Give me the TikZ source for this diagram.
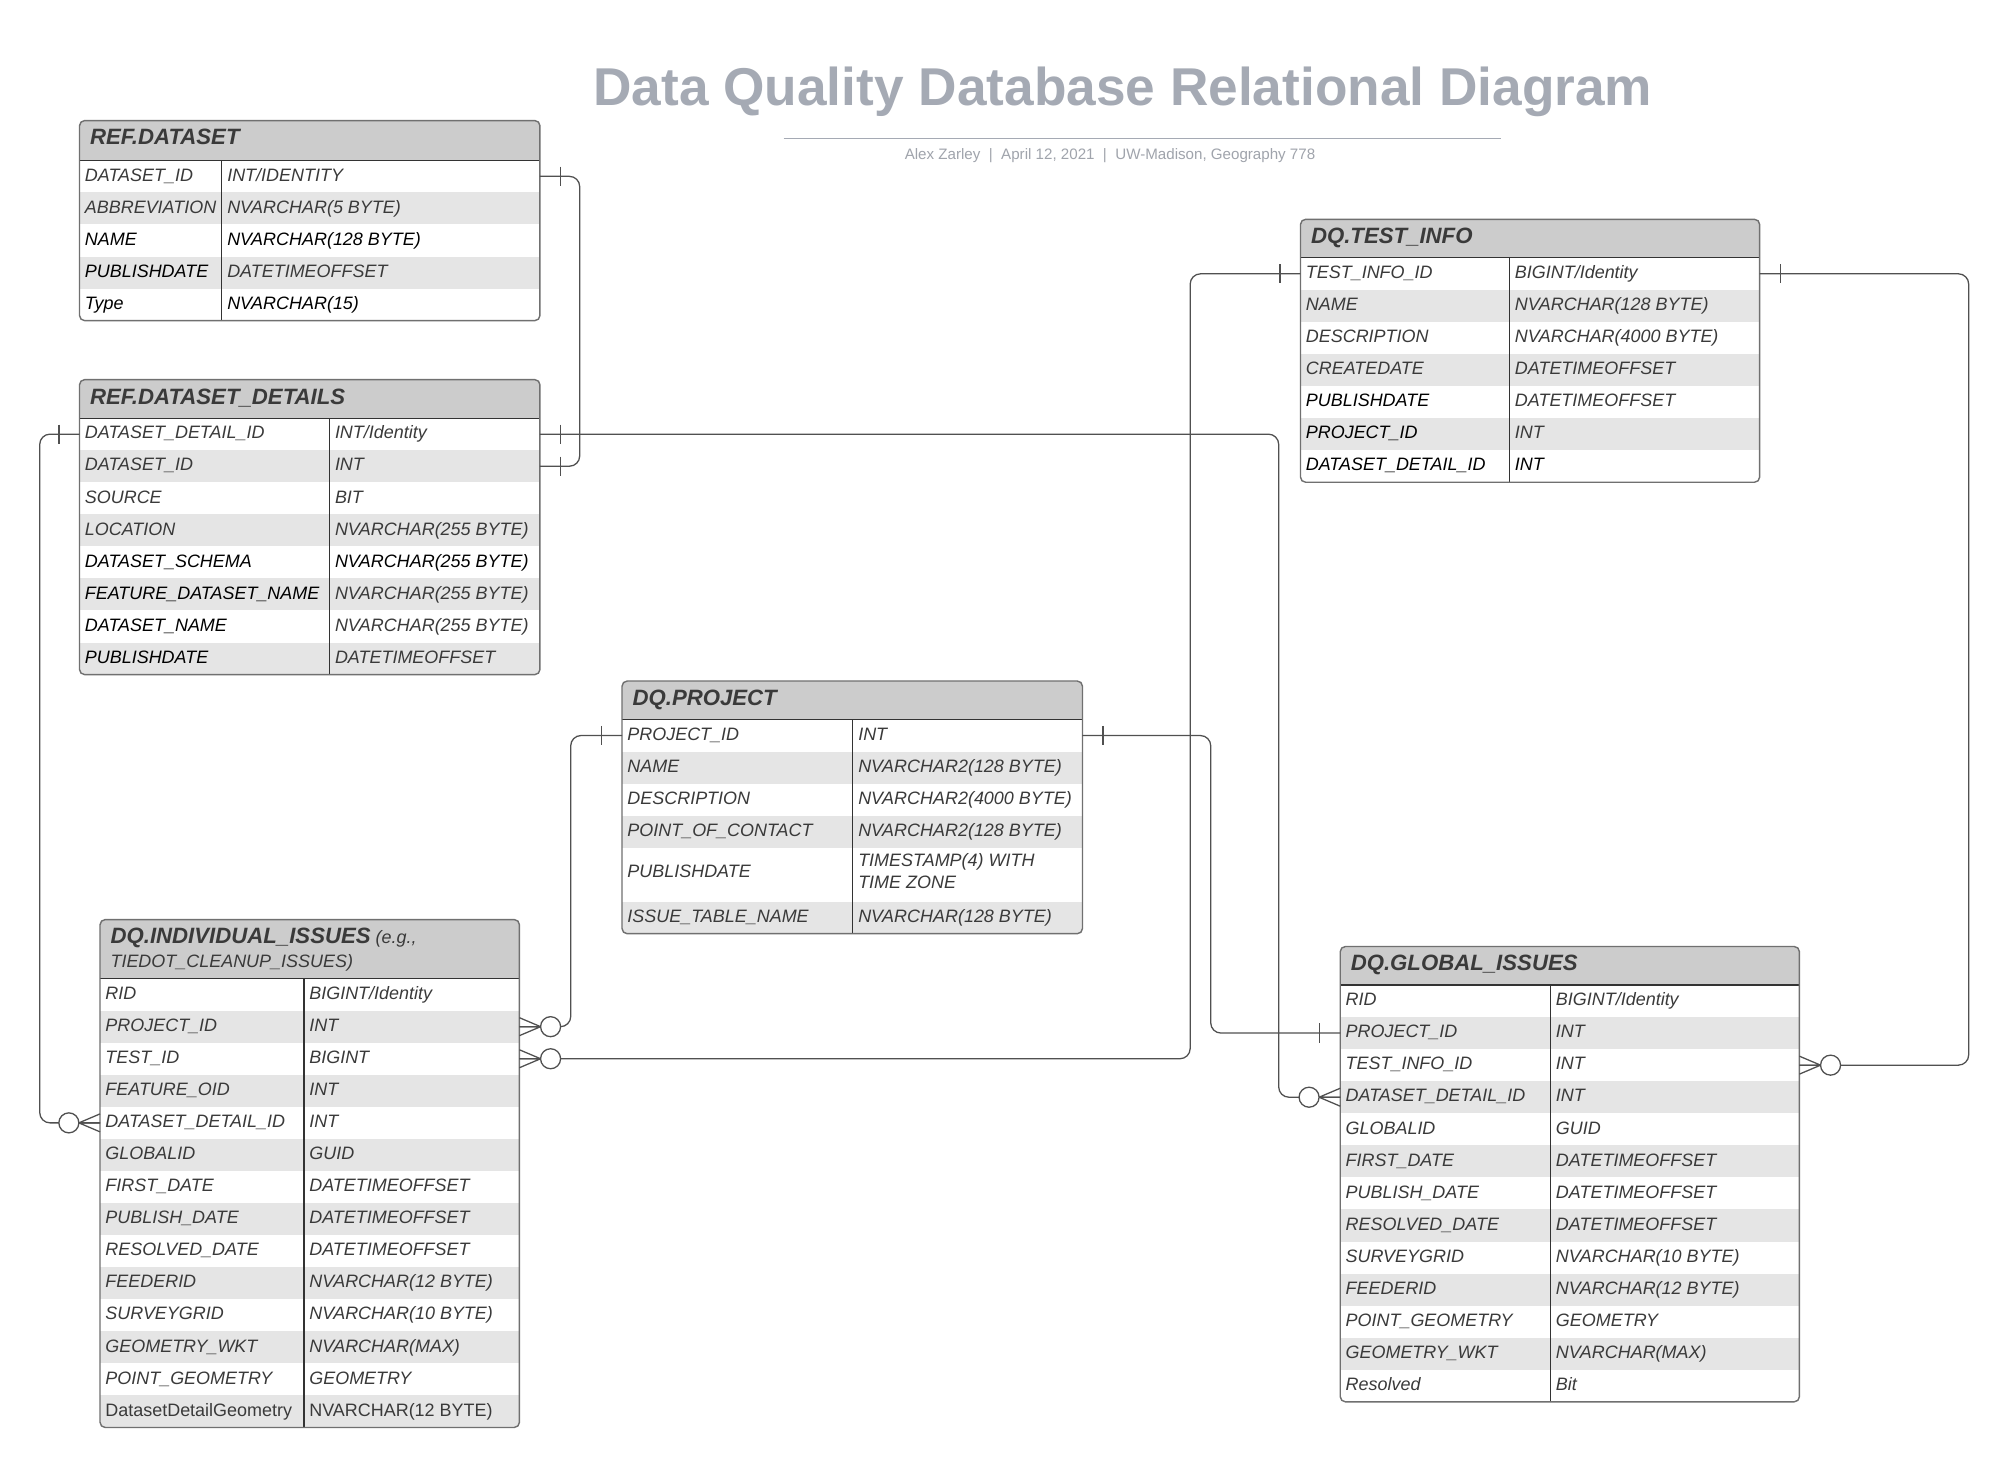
\documentclass[tikz,border=0pt]{standalone}
\usepackage{fontspec}
\setmainfont{Liberation Sans}
\definecolor{txtgray}{RGB}{58,58,58}
\definecolor{hdrgray}{RGB}{204,204,204}
\definecolor{rowgray}{RGB}{229,229,229}
\definecolor{bordergray}{RGB}{112,112,112}
\definecolor{linedark}{RGB}{51,51,51}
\definecolor{conngray}{RGB}{80,80,80}
\definecolor{titlegray}{RGB}{165,170,180}
\definecolor{subgray}{RGB}{160,164,172}
\newcommand{\bk}[1]{\textcolor{black}{#1}}
\newcommand{\erow}[6]{%
  \node[ercell] (#1-k) at (#2+4,#4+16.2) {#5};
  \node[ercell] (#1-t) at (#3+4,#4+16.2) {#6};
}
\tikzset{
  ercell/.style={anchor=base west, inner sep=0pt, font=\fontsize{14}{16}\selectfont\itshape, text=txtgray},
  ertitle/.style={anchor=base west, inner sep=0pt, font=\fontsize{17.3}{20}\selectfont\bfseries\itshape, text=txtgray},
  hdrfill/.style={fill=hdrgray},
  rowsh/.style={fill=rowgray},
  tborder/.style={draw=bordergray, line width=1.1pt, rounded corners=4pt},
  tline/.style={draw=linedark, line width=0.9pt},
  erconn/.style={draw=conngray, line width=1pt, rounded corners=8pt},
  markline/.style={draw=conngray, line width=1pt},
  onebar/.pic={\draw[markline] (16,-7.5) -- (16,7.5);},
  zmany/.pic={\draw[markline] (0,-7) -- (16.5,0) -- (0,7) (0,0) -- (16.5,0);
              \draw[markline, fill=white] (24.3,0) circle (7.8);}
}
\begin{document}
\begin{tikzpicture}[x={(1pt,0)}, y={(0,-1pt)}]
\useasboundingbox (0,0) rectangle (1568,1144);
\fill[white] (0,0) rectangle (1568,1144);

% ---------- title ----------
\node[anchor=base, inner sep=0pt, font=\fontsize{41.5}{48}\selectfont\bfseries, text=titlegray] (title) at (875.5,82.5) {Data Quality Database Relational Diagram};
\draw[draw=titlegray, line width=1pt] (611,108) -- (1170,108);
\node[anchor=base, inner sep=0pt, font=\fontsize{11.8}{13}\selectfont, text=subgray] (subtitle) at (865.5,124) {Alex Zarley~~|~~April 12, 2021~~|~~UW-Madison, Geography 778};

% ---------- REF.DATASET ----------
\begin{scope}
\clip[rounded corners=4pt] (62,94) rectangle (421,250);
\fill[hdrfill] (62,94) rectangle (421,125);
\fill[rowsh] (62,150) rectangle (421,175);
\fill[rowsh] (62,200) rectangle (421,225);
\end{scope}
\draw[tline] (62,125) -- (421,125) (173,125) -- (173,250);
\draw[tborder] (62,94) rectangle (421,250);
\node[ertitle] (t-ds) at (70,113) {REF.DATASET};
\erow{ds1}{62}{173}{125}{DATASET\_ID}{INT/IDENTITY}
\erow{ds2}{62}{173}{150}{ABBREVIATION}{NVARCHAR(5 BYTE)}
\erow{ds3}{62}{173}{175}{\bk{NAME}}{\bk{NVARCHAR(128 BYTE)}}
\erow{ds4}{62}{173}{200}{\bk{PUBLISHDATE}}{DATETIMEOFFSET}
\erow{ds5}{62}{173}{225}{\bk{Type}}{\bk{NVARCHAR(15)}}

% ---------- REF.DATASET_DETAILS ----------
\begin{scope}
\clip[rounded corners=4pt] (62,296) rectangle (421,526);
\fill[hdrfill] (62,296) rectangle (421,326);
\foreach \yy in {351,401,451,501} {\fill[rowsh] (62,\yy) rectangle (421,\yy+25);}
\end{scope}
\draw[tline] (62,326) -- (421,326) (257,326) -- (257,526);
\draw[tborder] (62,296) rectangle (421,526);
\node[ertitle] (t-dd) at (70,315) {REF.DATASET\_DETAILS};
\erow{dd1}{62}{257}{326}{DATASET\_DETAIL\_ID}{INT/Identity}
\erow{dd2}{62}{257}{351}{DATASET\_ID}{INT}
\erow{dd3}{62}{257}{376}{SOURCE}{BIT}
\erow{dd4}{62}{257}{401}{LOCATION}{NVARCHAR(255 BYTE)}
\erow{dd5}{62}{257}{426}{\bk{DATASET\_SCHEMA}}{\bk{NVARCHAR(255 BYTE)}}
\erow{dd6}{62}{257}{451}{\bk{FEATURE\_DATASET\_NAME}}{NVARCHAR(255 BYTE)}
\erow{dd7}{62}{257}{476}{\bk{DATASET\_NAME}}{NVARCHAR(255 BYTE)}
\erow{dd8}{62}{257}{501}{\bk{PUBLISHDATE}}{DATETIMEOFFSET}

% ---------- DQ.TEST_INFO ----------
\begin{scope}
\clip[rounded corners=4pt] (1014,171) rectangle (1372,376);
\fill[hdrfill] (1014,171) rectangle (1372,201);
\foreach \yy in {226,276,326} {\fill[rowsh] (1014,\yy) rectangle (1372,\yy+25);}
\end{scope}
\draw[tline] (1014,201) -- (1372,201) (1177,201) -- (1177,376);
\draw[tborder] (1014,171) rectangle (1372,376);
\node[ertitle] (t-ti) at (1022,190) {DQ.TEST\_INFO};
\erow{ti1}{1014}{1177}{201}{TEST\_INFO\_ID}{BIGINT/Identity}
\erow{ti2}{1014}{1177}{226}{NAME}{NVARCHAR(128 BYTE)}
\erow{ti3}{1014}{1177}{251}{DESCRIPTION}{NVARCHAR(4000 BYTE)}
\erow{ti4}{1014}{1177}{276}{CREATEDATE}{DATETIMEOFFSET}
\erow{ti5}{1014}{1177}{301}{\bk{PUBLISHDATE}}{DATETIMEOFFSET}
\erow{ti6}{1014}{1177}{326}{\bk{PROJECT\_ID}}{INT}
\erow{ti7}{1014}{1177}{351}{\bk{DATASET\_DETAIL\_ID}}{\bk{INT}}

% ---------- DQ.PROJECT ----------
\begin{scope}
\clip[rounded corners=4pt] (485,531) rectangle (844,728);
\fill[hdrfill] (485,531) rectangle (844,561);
\fill[rowsh] (485,586) rectangle (844,611);
\fill[rowsh] (485,636) rectangle (844,661);
\fill[rowsh] (485,703) rectangle (844,728);
\end{scope}
\draw[tline] (485,561) -- (844,561) (665,561) -- (665,728);
\draw[tborder] (485,531) rectangle (844,728);
\node[ertitle] (t-pj) at (493,550) {DQ.PROJECT};
\erow{pj1}{485}{665}{561}{PROJECT\_ID}{INT}
\erow{pj2}{485}{665}{586}{NAME}{NVARCHAR2(128 BYTE)}
\erow{pj3}{485}{665}{611}{DESCRIPTION}{NVARCHAR2(4000 BYTE)}
\erow{pj4}{485}{665}{636}{POINT\_OF\_CONTACT}{NVARCHAR2(128 BYTE)}
\node[ercell] (pj5-k) at (489,684) {PUBLISHDATE};
\node[ercell] (pj5-t) at (669,675.5) {TIMESTAMP(4) WITH};
\node[ercell] (pj5-t2) at (669,692.5) {TIME ZONE};
\erow{pj6}{485}{665}{703}{ISSUE\_TABLE\_NAME}{NVARCHAR(128 BYTE)}

% ---------- DQ.INDIVIDUAL_ISSUES ----------
\begin{scope}
\clip[rounded corners=4pt] (78,717) rectangle (405,1113);
\fill[hdrfill] (78,717) rectangle (405,763);
\foreach \yy in {788,838,888,938,988,1038,1088} {\fill[rowsh] (78,\yy) rectangle (405,\yy+25);}
\end{scope}
\draw[tline] (78,763) -- (405,763) (237,763) -- (237,1113);
\draw[tborder] (78,717) rectangle (405,1113);
\node[ertitle] (t-ii) at (86,736) {DQ.INDIVIDUAL\_ISSUES{\fontsize{14}{16}\selectfont\mdseries\ (e.g.,}};
\node[ercell] (t-ii2) at (86,754) {TIEDOT\_CLEANUP\_ISSUES)};
\erow{ii1}{78}{237}{763}{RID}{BIGINT/Identity}
\erow{ii2}{78}{237}{788}{PROJECT\_ID}{INT}
\erow{ii3}{78}{237}{813}{TEST\_ID}{BIGINT}
\erow{ii4}{78}{237}{838}{FEATURE\_OID}{INT}
\erow{ii5}{78}{237}{863}{DATASET\_DETAIL\_ID}{INT}
\erow{ii6}{78}{237}{888}{GLOBALID}{GUID}
\erow{ii7}{78}{237}{913}{FIRST\_DATE}{DATETIMEOFFSET}
\erow{ii8}{78}{237}{938}{PUBLISH\_DATE}{DATETIMEOFFSET}
\erow{ii9}{78}{237}{963}{RESOLVED\_DATE}{DATETIMEOFFSET}
\erow{ii10}{78}{237}{988}{FEEDERID}{NVARCHAR(12 BYTE)}
\erow{ii11}{78}{237}{1013}{SURVEYGRID}{NVARCHAR(10 BYTE)}
\erow{ii12}{78}{237}{1038}{GEOMETRY\_WKT}{NVARCHAR(MAX)}
\erow{ii13}{78}{237}{1063}{POINT\_GEOMETRY}{GEOMETRY}
\erow{ii14}{78}{237}{1088}{\textup{DatasetDetailGeometry}}{\textup{NVARCHAR(12 BYTE)}}

% ---------- DQ.GLOBAL_ISSUES ----------
\begin{scope}
\clip[rounded corners=4pt] (1045,738) rectangle (1403,1093);
\fill[hdrfill] (1045,738) rectangle (1403,768);
\foreach \yy in {793,843,893,943,993,1043} {\fill[rowsh] (1045,\yy) rectangle (1403,\yy+25);}
\end{scope}
\draw[tline] (1045,768) -- (1403,768) (1209,768) -- (1209,1093);
\draw[tborder] (1045,738) rectangle (1403,1093);
\node[ertitle] (t-gi) at (1053,757) {DQ.GLOBAL\_ISSUES};
\erow{gi1}{1045}{1209}{768}{RID}{BIGINT/Identity}
\erow{gi2}{1045}{1209}{793}{PROJECT\_ID}{INT}
\erow{gi3}{1045}{1209}{818}{TEST\_INFO\_ID}{INT}
\erow{gi4}{1045}{1209}{843}{DATASET\_DETAIL\_ID}{INT}
\erow{gi5}{1045}{1209}{868}{GLOBALID}{GUID}
\erow{gi6}{1045}{1209}{893}{FIRST\_DATE}{DATETIMEOFFSET}
\erow{gi7}{1045}{1209}{918}{PUBLISH\_DATE}{DATETIMEOFFSET}
\erow{gi8}{1045}{1209}{943}{RESOLVED\_DATE}{DATETIMEOFFSET}
\erow{gi9}{1045}{1209}{968}{SURVEYGRID}{NVARCHAR(10 BYTE)}
\erow{gi10}{1045}{1209}{993}{FEEDERID}{NVARCHAR(12 BYTE)}
\erow{gi11}{1045}{1209}{1018}{POINT\_GEOMETRY}{GEOMETRY}
\erow{gi12}{1045}{1209}{1043}{GEOMETRY\_WKT}{NVARCHAR(MAX)}
\erow{gi13}{1045}{1209}{1068}{Resolved}{Bit}

% ---------- connector end points ----------
\coordinate (dsE) at (421,137.5);
\coordinate (ddDsE) at (421,363.5);
\coordinate (ddDdiE) at (421,338.5);
\coordinate (ddDdiW) at (62,338.5);
\coordinate (tiW) at (1014,213.5);
\coordinate (tiE) at (1372,213.5);
\coordinate (pjW) at (485,573.5);
\coordinate (pjE) at (844,573.5);
\coordinate (iiPidE) at (405,800.5);
\coordinate (iiTidE) at (405,825.5);
\coordinate (iiDdiW) at (78,875.5);
\coordinate (giPidW) at (1045,805.5);
\coordinate (giTiE) at (1403,830.5);
\coordinate (giDdiW) at (1045,855.5);

% ---------- connectors ----------
\draw[erconn] (dsE) -- ++(31,0) |- (ddDsE);
\draw[erconn] (ddDdiW) -- ++(-31,0) |- (iiDdiW);
\draw[erconn] (ddDdiE) -- ++(576,0) |- (giDdiW);
\draw[erconn] (pjW) -- ++(-40,0) |- (iiPidE);
\draw[erconn] (pjE) -- ++(100,0) |- (giPidW);
\draw[erconn] (tiW) -- ++(-86,0) |- (iiTidE);
\draw[erconn] (tiE) -- ++(163,0) |- (giTiE);

% ---------- cardinality marks ----------
\pic at (dsE) {onebar};
\pic at (ddDsE) {onebar};
\pic at (ddDdiE) {onebar};
\pic[xscale=-1] at (ddDdiW) {onebar};
\pic[xscale=-1] at (pjW) {onebar};
\pic at (pjE) {onebar};
\pic[xscale=-1] at (giPidW) {onebar};
\pic[xscale=-1] at (tiW) {onebar};
\pic at (tiE) {onebar};
\pic[xscale=-1] at (iiDdiW) {zmany};
\pic at (iiPidE) {zmany};
\pic at (iiTidE) {zmany};
\pic[xscale=-1] at (giDdiW) {zmany};
\pic at (giTiE) {zmany};
\end{tikzpicture}
\end{document}
